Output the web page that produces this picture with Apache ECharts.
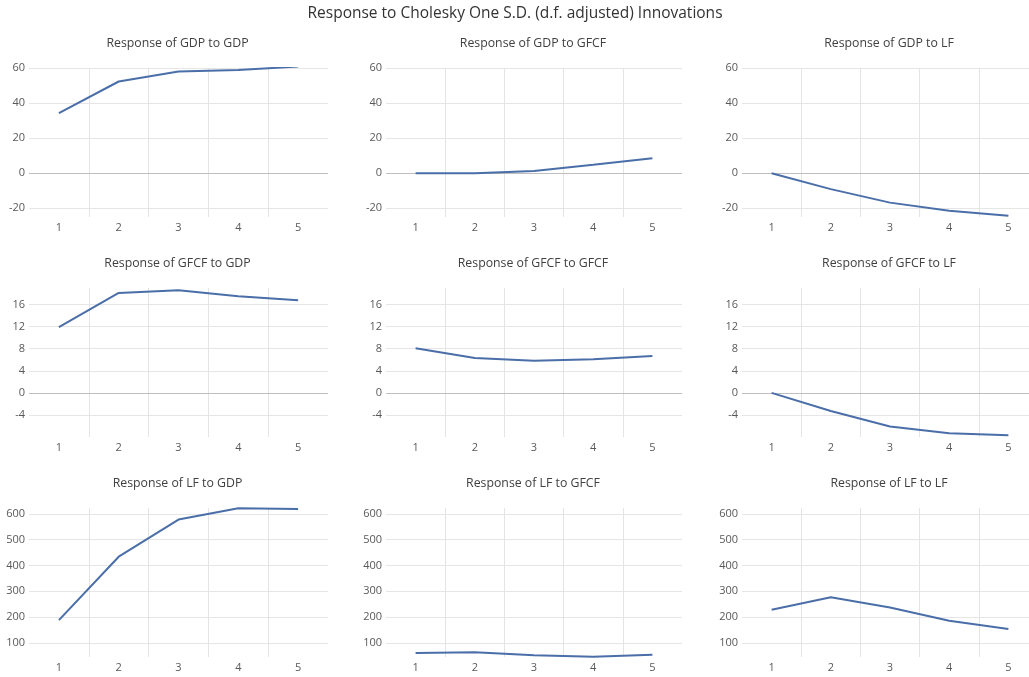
<!DOCTYPE html>
<html>
<head>
<meta charset="utf-8">
<script src="https://cdn.jsdelivr.net/npm/echarts@6/dist/echarts.min.js"></script>
<style>
html, body { margin: 0; padding: 0; background: #fff; }
#chart { width: 1029px; height: 677px; }
</style>
</head>
<body>
<div id="chart"></div>
<script>
// periods on the x axis
var periods = [1, 2, 3, 4, 5];

// responses
var gdpToGdp   = [34.3, 52.3, 58.0, 58.9, 60.8];
var gdpToGfcf  = [0, 0, 1.3, 4.8, 8.5];
var gdpToLf    = [0, -9.1, -16.8, -21.5, -24.3];
var gfcfToGdp  = [11.9, 18.1, 18.6, 17.5, 16.8];
var gfcfToGfcf = [8.1, 6.3, 5.8, 6.1, 6.7];
var gfcfToLf   = [0, -3.3, -6.1, -7.3, -7.7];
var lfToGdp    = [188, 434, 578, 622, 619];
var lfToGfcf   = [61, 63, 52, 46, 54];
var lfToLf     = [228, 277, 237, 186, 154];

var panelTitles = [
    'Response of GDP to GDP', 'Response of GDP to GFCF', 'Response of GDP to LF',
    'Response of GFCF to GDP', 'Response of GFCF to GFCF', 'Response of GFCF to LF',
    'Response of LF to GDP', 'Response of LF to GFCF', 'Response of LF to LF'
];
var panelSeries = [gdpToGdp, gdpToGfcf, gdpToLf, gfcfToGdp, gfcfToGfcf, gfcfToLf, lfToGdp, lfToGfcf, lfToLf];

// y tick labels per row
var rowTicks = [
    [-20, 0, 20, 40, 60],
    [-4, 0, 4, 8, 12, 16],
    [100, 200, 300, 400, 500, 600]
];
var rowMin = [-25, -8, 45];
var rowMax = [60, 19, 623];

// x positions of the band boundaries (between periods)
var xBounds = [1.5, 2.5, 3.5, 4.5];

var colLeft = [29, 386, 742];
var colWidth = [299, 296, 296];
var rowTop = [68, 288, 508];
var rowHeight = 149;
var titleTop = [37, 257, 477];

var lineColor = '#4a6ea8';
var labelColor = '#595959';
var font = 'Open Sans';

var titles = [{
    text: 'Response to Cholesky One S.D. (d.f. adjusted) Innovations',
    left: 515, top: 6, textAlign: 'center', padding: 0,
    textStyle: { fontFamily: font, fontSize: 15.5, fontWeight: 'normal', color: '#333' }
}];
var grids = [], xAxes = [], yAxes = [], series = [];

for (var i = 0; i < 9; i++) {
    var r = Math.floor(i / 3), c = i % 3;
    titles.push({
        text: panelTitles[i],
        left: colLeft[c] + colWidth[c] / 2 - 1, top: titleTop[r], textAlign: 'center', padding: 0,
        textStyle: { fontFamily: font, fontSize: 12.3, fontWeight: 'normal', color: '#404040' }
    });
    grids.push({ left: colLeft[c], top: rowTop[r], width: colWidth[c], height: rowHeight, outerBoundsMode: 'none', containLabel: false });
    xAxes.push({
        type: 'value', gridIndex: i, min: 0.5, max: 5.5,
        axisLine: { show: false },
        axisTick: { show: false, customValues: xBounds },
        axisLabel: { customValues: periods, color: labelColor, fontFamily: font, fontSize: 11, margin: 5 },
        splitLine: { show: true, lineStyle: { color: '#e4e4e4', width: 1 } }
    });
    yAxes.push({
        type: 'value', gridIndex: i, min: rowMin[r], max: rowMax[r],
        axisLine: { show: false },
        axisTick: { show: false, customValues: rowTicks[r] },
        axisLabel: { customValues: rowTicks[r], color: labelColor, fontFamily: font, fontSize: 11, margin: 4 },
        splitLine: { show: true, lineStyle: { color: '#e6e6e6', width: 1 } }
    });
    var pts = [];
    for (var k = 0; k < periods.length; k++) pts.push([periods[k], panelSeries[i][k]]);
    series.push({
        type: 'line', xAxisIndex: i, yAxisIndex: i,
        data: pts, showSymbol: false, symbol: 'none',
        lineStyle: { color: lineColor, width: 2 },
        z: 3,
        markLine: {
            silent: true, symbol: 'none', label: { show: false },
            lineStyle: { color: '#bfbfbf', width: 1, type: 'solid' },
            data: [{ yAxis: 0 }],
            z: 1
        }
    });
}

var myChart = echarts.init(document.getElementById('chart'));
myChart.setOption({
    animation: false,
    backgroundColor: '#fff',
    title: titles,
    grid: grids,
    xAxis: xAxes,
    yAxis: yAxes,
    series: series
});
</script>
</body>
</html>
